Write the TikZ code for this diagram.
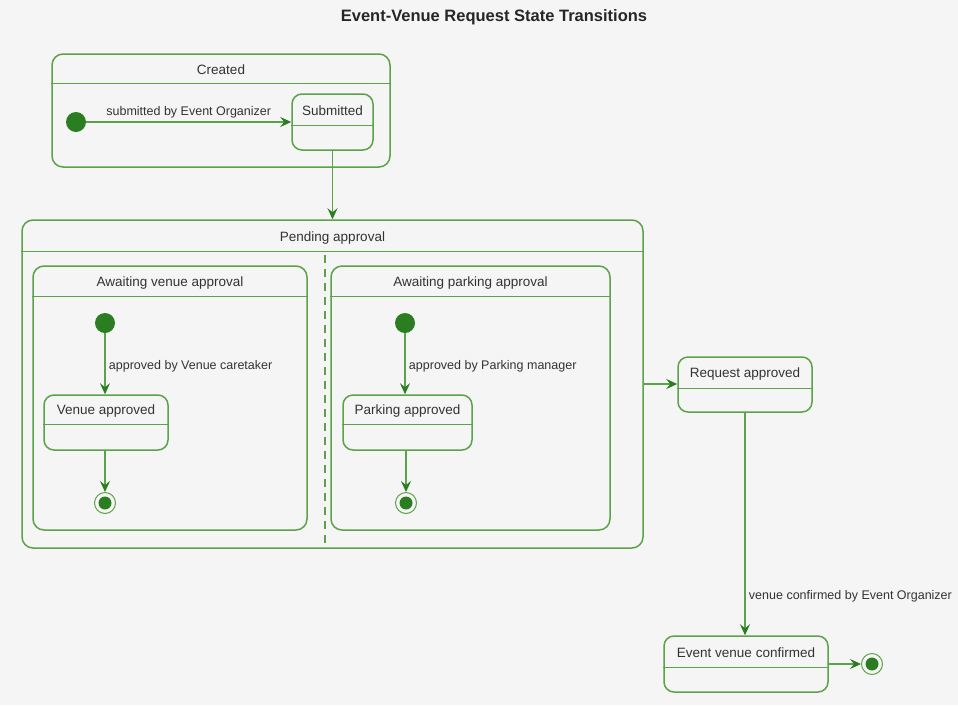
\documentclass[tikz,border=0pt]{standalone}
\usepackage{fontspec}
\setmainfont{Liberation Sans}
\usepackage{tikz}
\usetikzlibrary{positioning}
\usetikzlibrary{arrows.meta}
\definecolor{bgcolor}{RGB}{245,245,245}
\definecolor{stateline}{RGB}{92,162,72}
\definecolor{statefill}{RGB}{42,125,32}
\tikzset{
  statebox/.style={rectangle,draw=stateline,line width=1.5pt,
                   rounded corners=11pt,inner sep=0pt},
  statename/.style={font=\fontsize{13.5}{15}\selectfont,text=black!80},
  transition/.style={draw=stateline,line width=1.3pt,
                     -{Stealth[length=11pt,width=10pt,inset=4pt,color=statefill]}},
  translabel/.style={font=\fontsize{12.5}{14}\selectfont,text=black!80},
  initstate/.style={circle,fill=statefill,minimum size=20pt,inner sep=0pt},
  finalstate/.style={circle,draw=stateline,line width=1pt,fill=bgcolor,
                     minimum size=21pt,inner sep=0pt,
                     path picture={\fill[statefill] (path picture bounding box.center)
                     circle (6.5pt);}},
  divider/.style={draw=stateline,line width=1.5pt},
}

\begin{document}
\begin{tikzpicture}[x=1pt,y=-1pt]
  \fill[bgcolor] (0,0) rectangle (958,705);
  \useasboundingbox (0,0) rectangle (958,705);

  \node[font=\bfseries\fontsize{16.5}{18}\selectfont,text=black!85]
      (diagramTitle) at (494,17) {Event-Venue Request State Transitions};

  % composite state: Created
  \node[statebox,minimum width=338pt,minimum height=113pt]
      (created) at (221,110.5) {};
  \node[statename] (createdName) at ([yshift=-16pt]created.north) {Created};
  \draw[divider] ([yshift=-30pt]created.north west) --
      ([yshift=-30pt]created.north east);

  \node[initstate] (createdInit) at (76,122) {};
  \node[statebox,rounded corners=10pt,minimum width=81pt,minimum height=56pt]
      (submitted) at (332.5,122) {};
  \node[statename] (submittedName) at ([yshift=-17pt]submitted.north) {Submitted};
  \draw[divider] ([yshift=-32pt]submitted.north west) --
      ([yshift=-32pt]submitted.north east);
  \draw[transition] (createdInit) --
      node[translabel,above=0pt] {submitted by Event Organizer}
      (submitted.west |- createdInit);

  % composite state: Pending approval
  \node[statebox,minimum width=621pt,minimum height=328pt]
      (pending) at (332.5,384) {};
  \node[statename] (pendingName) at ([yshift=-19pt]pending.north) {Pending approval};
  \draw[divider] ([yshift=-32pt]pending.north west) --
      ([yshift=-32pt]pending.north east);
  \draw[divider,line width=1.4pt,dash pattern=on 8pt off 6pt]
      ([xshift=-7.5pt,yshift=-36pt]pending.north) -- ([xshift=-7.5pt]pending.south);
  \draw[transition] (submitted) -- (submitted |- pending.north);

  % region: venue
  \node[statebox,minimum width=274pt,minimum height=264pt]
      (venueRegion) at (170,398) {};
  \node[statename] (venueRegionName) at ([yshift=-18pt]venueRegion.north)
      {Awaiting venue approval};
  \draw[divider] ([yshift=-31pt]venueRegion.north west) --
      ([yshift=-31pt]venueRegion.north east);

  \node[initstate] (venueInit) at (105,323) {};
  \node[statebox,rounded corners=10pt,minimum width=124pt,minimum height=55pt]
      (venueApproved) at (106,422.5) {};
  \node[statename] (venueApprovedName) at ([yshift=-17pt]venueApproved.north)
      {Venue approved};
  \draw[divider] ([yshift=-30pt]venueApproved.north west) --
      ([yshift=-30pt]venueApproved.north east);
  \node[finalstate] (venueFinal) at (105,503) {};
  \draw[transition] (venueInit) --
      node[translabel,right=0pt,yshift=-3pt] {approved by Venue caretaker}
      (venueInit |- venueApproved.north);
  \draw[transition] (venueApproved.south -| venueFinal) -- (venueFinal);

  % region: parking
  \node[statebox,minimum width=279pt,minimum height=264pt]
      (parkingRegion) at (470.5,398) {};
  \node[statename] (parkingRegionName) at ([yshift=-18pt]parkingRegion.north)
      {Awaiting parking approval};
  \draw[divider] ([yshift=-31pt]parkingRegion.north west) --
      ([yshift=-31pt]parkingRegion.north east);

  \node[initstate] (parkingInit) at (405,323) {};
  \node[statebox,rounded corners=10pt,minimum width=129pt,minimum height=55pt]
      (parkingApproved) at (407.5,422.5) {};
  \node[statename] (parkingApprovedName) at ([yshift=-17pt]parkingApproved.north)
      {Parking approved};
  \draw[divider] ([yshift=-30pt]parkingApproved.north west) --
      ([yshift=-30pt]parkingApproved.north east);
  \node[finalstate] (parkingFinal) at (406,503) {};
  \draw[transition] (parkingInit) --
      node[translabel,right=0pt,yshift=-3pt] {approved by Parking manager}
      (parkingInit |- parkingApproved.north);
  \draw[transition] (parkingApproved.south -| parkingFinal) -- (parkingFinal);

  % request approved and confirmed
  \node[statebox,rounded corners=10pt,minimum width=134pt,minimum height=55pt]
      (requestApproved) at (745,384.5) {};
  \node[statename] (requestApprovedName) at ([yshift=-18pt]requestApproved.north)
      {Request approved};
  \draw[divider] ([yshift=-32pt]requestApproved.north west) --
      ([yshift=-32pt]requestApproved.north east);
  \draw[transition] (pending.east) -- (requestApproved.west |- pending.east);

  \node[statebox,rounded corners=10pt,minimum width=164pt,minimum height=56pt]
      (eventConfirmed) at (746,664) {};
  \node[statename] (eventConfirmedName) at ([yshift=-17pt]eventConfirmed.north)
      {Event venue confirmed};
  \draw[divider] ([yshift=-32pt]eventConfirmed.north west) --
      ([yshift=-32pt]eventConfirmed.north east);
  \draw[transition] (requestApproved.south) --
      node[translabel,right=0pt,pos=0.81,yshift=-3pt] {venue confirmed by Event Organizer}
      (requestApproved.south |- eventConfirmed.north);

  \node[finalstate] (confirmedFinal) at (872,664) {};
  \draw[transition] (eventConfirmed.east) -- (confirmedFinal);
\end{tikzpicture}
\end{document}
